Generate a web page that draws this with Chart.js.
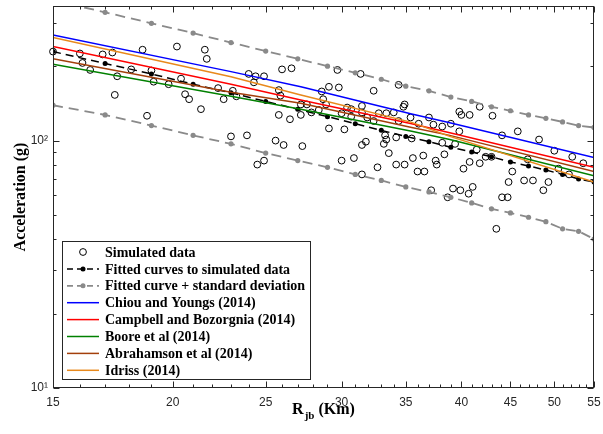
<!DOCTYPE html>
<html>
<head>
<meta charset="utf-8">
<script src="https://cdn.jsdelivr.net/npm/chart.js@4.4.1/dist/chart.umd.min.js"></script>
<style>
html,body{margin:0;padding:0;background:#ffffff;}
#wrap{width:603px;height:434px;}
canvas{display:block;}
</style>
</head>
<body>
<div id="wrap"><canvas id="chart" width="603" height="434"></canvas></div>
<script>
// ---------- DATA ----------
const simX = [15.0,16.0,16.1,16.4,16.9,17.3,17.5,17.4,18.6,18.1,19.0,19.1,18.8,19.8,20.2,20.4,20.6,20.8,21.6,21.7,
  21.4,22.3,22.6,23.1,23.3,23.0,23.9,24.0,24.4,24.9,24.3,24.5,24.9,25.8,25.9,26.0,26.6,25.8,26.5,25.6,
  26.1,27.3,27.2,27.6,27.9,27.2,28.4,28.6,28.7,28.9,29.1,29.8,29.7,31.4,30.4,30.7,30.0,30.7,31.5,31.5,
  31.9,32.4,32.4,32.8,33.4,34.0,34.4,34.4,34.9,34.8,35.4,36.1,37.0,37.4,38.2,39.0,39.8,40.0,40.8,41.8,
  43.1,39.8,44.1,45.8,48.2,50.0,52.2,53.6,29.1,30.2,31.5,31.8,33.3,33.4,33.2,34.2,33.6,30.9,30.0,31.5,
  32.7,34.2,34.9,35.6,35.5,36.0,36.6,36.5,37.6,37.7,38.2,38.4,39.4,40.2,40.8,41.8,42.4,43.0,41.5,44.8,
  45.2,46.5,47.5,46.9,49.3,48.7,50.5,51.8,37.2,39.2,39.9,40.7,41.1,38.7,44.1,44.7,43.5];
const simY = [229,225,206,193,223,227,182,153,233,194,192,173,126,169,240,178,154,147,233,214,
  134,163,147,159,151,104,105,186,182,182,172,80,83,160,152,194,196,127,122,100,
  96,95,140,140,130,127,133,158,147,140,165,164,193,186,136,134,129,125,138,130,
  124,120,159,129,129,130,120,168,140,137,124,117,124,116,114,117,131,127,127,137,
  126,109,105,109,101,91,86,81,112,111,96,99,105,101,97,103,89,85,83,73,
  78,80,80,85,102,75,75,87,83,80,98,88,97,77,82,81,86,86,92,68,
  75,69,69,84,68,63,77,73,63,64,63,61,65,59,59,59,44];

const fitX   = [15,17,19,21,23,25,27,29,31,33,35,37,39,41,43,45,47,49,51,53,55];
const fitY   = [229,205,186,169,156,144,134,125,117,110,104,99,94,90,86,82,79,76,73,70,68];
const upperY = [369,330,298,272,249,230,214,200,188,177,166,159,150,144,137,132,127,123,119,115,113];
const lowerY = [139,127,115,105,97,89,83,78,73,69,65,62,59,56,53,51,49,47,44,43,40];

const gmpeX      = [15,23,27.2,35.5,38.9,55];
const chiouY     = [267,190,165,128,118,85.5];
const campbellY  = [240,169,146,117,107.5,78];
const booreY     = [203.5,151,134,109,101,72];
const abrahamY   = [214,157,141.5,113,105,75];
const idrissY    = [261,181,153,118.5,104,68];

const seriesNames = ['Simulated data','Fitted curves to simulated data','Fitted curve + standard deviation',
  'Chiou and Youngs (2014)','Campbell and Bozorgnia (2014)','Boore et al (2014)','Abrahamson et al (2014)','Idriss (2014)'];

const xTicks = [15,20,25,30,35,40,45,50,55];
const xTickLabels = ['15','20','25','30','35','40','45','50','55'];
const yTicks = [10,100];
const yTickLabels = ['10\u00B9','10\u00B2'];
const yTitle = 'Acceleration (g)';
const xTitleParts = ['R','jb',' (Km)'];

// minor tick positions (axis decoration)
const xMinor = []; for (let v = 16; v < 55; v++) if (v % 5 !== 0) xMinor.push(v);
const yMinor = [20,30,40,50,60,70,80,90,200,300];

// ---------- STYLE ----------
const AXIS = '#262626';
const GRAY = '#8a8a8a';
function pts(xs, ys){ return xs.map((x,i)=>({x:x, y:ys[i]})); }

const datasets = [
  {label: seriesNames[0], data: pts(simX, simY), showLine:false, pointStyle:'circle', pointRadius:3.4,
   pointBorderWidth:1, pointBorderColor:'#000', pointBackgroundColor:'rgba(0,0,0,0)', order:9, clip:false},
  {label: seriesNames[1], data: pts(fitX, fitY), showLine:true, borderColor:'#000', borderWidth:1.5, borderDash:[8,5],
   pointRadius:2.5, pointBorderWidth:0, pointBackgroundColor:'#000', pointBorderColor:'#000', order:7},
  {label: seriesNames[2], data: pts(fitX, upperY), showLine:true, borderColor:GRAY, borderWidth:1.8, borderDash:[10,6],
   pointRadius:2.6, pointBorderWidth:0, pointBackgroundColor:GRAY, pointBorderColor:GRAY, order:8},
  {label: '', data: pts(fitX, lowerY), showLine:true, borderColor:GRAY, borderWidth:1.8, borderDash:[10,6],
   pointRadius:2.6, pointBorderWidth:0, pointBackgroundColor:GRAY, pointBorderColor:GRAY, order:8},
  {label: seriesNames[3], data: pts(gmpeX, chiouY), showLine:true, borderColor:'#0000ff', borderWidth:1.5, pointRadius:0, order:5},
  {label: seriesNames[4], data: pts(gmpeX, campbellY), showLine:true, borderColor:'#ff0000', borderWidth:1.5, pointRadius:0, order:4},
  {label: seriesNames[5], data: pts(gmpeX, booreY), showLine:true, borderColor:'#008000', borderWidth:1.5, pointRadius:0, order:3},
  {label: seriesNames[6], data: pts(gmpeX, abrahamY), showLine:true, borderColor:'#a33f0b', borderWidth:1.5, pointRadius:0, order:2},
  {label: seriesNames[7], data: pts(gmpeX, idrissY), showLine:true, borderColor:'#e8891c', borderWidth:1.5, pointRadius:0, order:1}
];
const legendIdx = [0,1,2,4,5,6,7,8];

// ---------- PLUGINS ----------
const framePlugin = {
  id: 'frame',
  afterDraw(chart){
    const ctx = chart.ctx, ca = chart.chartArea, xs = chart.scales.x, ys = chart.scales.y;
    const L = Math.round(ca.left)+0.5, R = Math.round(ca.right)-0.5, T = Math.round(ca.top)+0.5, B = Math.round(ca.bottom)-0.5;
    ctx.save();
    ctx.strokeStyle = AXIS; ctx.lineWidth = 1; ctx.setLineDash([]);
    ctx.strokeRect(L, T, R-L, B-T);
    ctx.beginPath();
    const xt = (v, len) => { const p = Math.round(xs.getPixelForValue(v))+0.5; ctx.moveTo(p,B); ctx.lineTo(p,B-len); ctx.moveTo(p,T); ctx.lineTo(p,T+len); };
    const yt = (v, len) => { const p = Math.round(ys.getPixelForValue(v))+0.5; ctx.moveTo(L,p); ctx.lineTo(L+len,p); ctx.moveTo(R,p); ctx.lineTo(R-len,p); };
    xTicks.forEach(v => xt(v, 6)); xMinor.forEach(v => xt(v, 3));
    yTicks.forEach(v => yt(v, 6)); yMinor.forEach(v => yt(v, 3));
    ctx.stroke();
    ctx.restore();
  }
};

const legendPlugin = {
  id: 'inLegend',
  afterDraw(chart){
    const ctx = chart.ctx;
    const bx = 62.5, by = 241.5, bw = 248, bh = 138;
    ctx.save();
    ctx.fillStyle = '#fff'; ctx.fillRect(bx, by, bw, bh);
    ctx.strokeStyle = AXIS; ctx.lineWidth = 1; ctx.setLineDash([]); ctx.strokeRect(bx, by, bw, bh);
    ctx.font = 'bold 14px "Liberation Serif"';
    ctx.textBaseline = 'middle'; ctx.textAlign = 'left';
    legendIdx.forEach((di, r) => {
      const ds = chart.data.datasets[di];
      const y = 252 + r*16.9;
      if (ds.showLine){
        ctx.strokeStyle = ds.borderColor; ctx.lineWidth = ds.borderWidth;
        ctx.setLineDash(ds.borderDash ? [6,4] : []);
        ctx.beginPath(); ctx.moveTo(67, y); ctx.lineTo(99, y); ctx.stroke();
        ctx.setLineDash([]);
      }
      if (ds.pointRadius > 0){
        ctx.beginPath(); ctx.arc(83, y, ds.showLine ? 2.5 : 3.4, 0, Math.PI*2);
        if (ds.showLine){ ctx.fillStyle = ds.pointBackgroundColor; ctx.fill(); }
        else { ctx.strokeStyle = '#000'; ctx.lineWidth = 1; ctx.stroke(); }
      }
      ctx.fillStyle = '#000';
      ctx.fillText(ds.label, 105, y + 1);
    });
    ctx.restore();
  }
};

const titlePlugin = {
  id: 'titles',
  afterDraw(chart){
    const ctx = chart.ctx, ca = chart.chartArea;
    ctx.save();
    ctx.fillStyle = '#000';
    ctx.font = 'bold 16px "Liberation Serif"';
    ctx.translate(25, (ca.top + ca.bottom)/2);
    ctx.rotate(-Math.PI/2);
    ctx.textAlign = 'center'; ctx.textBaseline = 'alphabetic';
    ctx.fillText(yTitle, 0, 0);
    ctx.restore();

    ctx.save();
    ctx.fillStyle = '#000'; ctx.textAlign = 'left'; ctx.textBaseline = 'alphabetic';
    const mainF = 'bold 16px "Liberation Serif"', subF = 'bold 11px "Liberation Serif"';
    ctx.font = mainF; const w0 = ctx.measureText(xTitleParts[0]).width, w2 = ctx.measureText(xTitleParts[2]).width;
    ctx.font = subF; const w1 = ctx.measureText(xTitleParts[1]).width + 1;
    let x = (ca.left + ca.right)/2 - (w0+w1+w2)/2;
    ctx.font = mainF; ctx.fillText(xTitleParts[0], x, 414);
    ctx.font = subF; ctx.fillText(xTitleParts[1], x + w0 + 1, 419);
    ctx.font = mainF; ctx.fillText(xTitleParts[2], x + w0 + w1, 414);
    ctx.restore();
  }
};

function zeroPad(s){ s.paddingTop = 0; s.paddingBottom = 0; s.paddingLeft = 0; s.paddingRight = 0; }

// ---------- CHART ----------
new Chart(document.getElementById('chart').getContext('2d'), {
  type: 'scatter',
  data: { datasets: datasets },
  options: {
    responsive: false,
    animation: false,
    events: [],
    layout: { padding: { top: 6, right: 9, left: 0, bottom: 0 } },
    plugins: { legend: { display: false }, tooltip: { enabled: false }, title: { display: false } },
    elements: { line: { tension: 0 } },
    scales: {
      x: {
        type: 'logarithmic', min: 15, max: 55,
        grid: { display: false, drawTicks: false }, border: { display: false },
        afterBuildTicks: s => { s.ticks = xTicks.map(v => ({ value: v })); },
        afterFit: s => { s.height = 46; zeroPad(s); },
        ticks: { autoSkip: false, maxRotation: 0, padding: 7, color: AXIS,
                 font: { family: '"Liberation Sans"', size: 12 },
                 callback: v => { const i = xTicks.indexOf(v); return i >= 0 ? xTickLabels[i] : ''; } }
      },
      y: {
        type: 'logarithmic', min: 10, max: 350,
        grid: { display: false, drawTicks: false }, border: { display: false },
        afterBuildTicks: s => { s.ticks = yTicks.map(v => ({ value: v })); },
        afterFit: s => { s.width = 53; zeroPad(s); },
        ticks: { autoSkip: false, padding: 5, color: AXIS,
                 font: { family: '"Liberation Sans"', size: 12 },
                 callback: v => { const i = yTicks.indexOf(v); return i >= 0 ? yTickLabels[i] : ''; } }
      }
    }
  },
  plugins: [framePlugin, legendPlugin, titlePlugin]
});
</script>
</body>
</html>
